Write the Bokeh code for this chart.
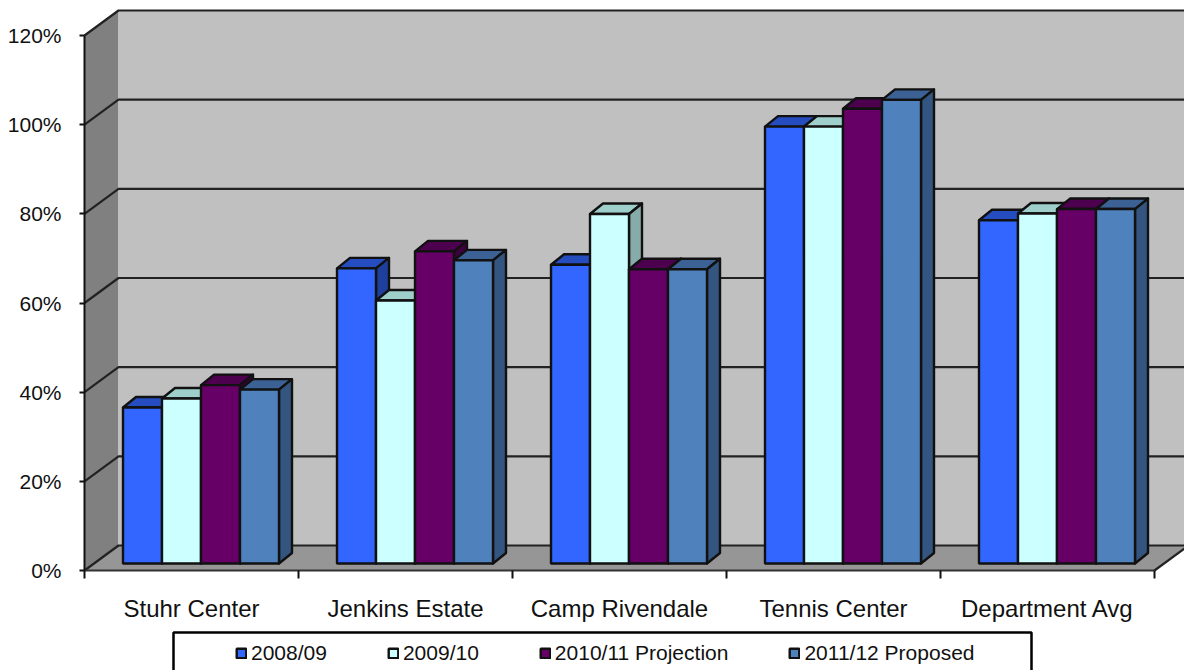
from bokeh.plotting import figure
from bokeh.models import (Range1d, FixedTicker, PrintfTickFormatter, Legend, LegendItem,
                          BoxAnnotation, ColumnDataSource)
from bokeh.embed import file_html
from bokeh.resources import INLINE

categories = ["Stuhr Center", "Jenkins Estate", "Camp Rivendale", "Tennis Center", "Department Avg"]
series_names = ["2008/09", "2009/10", "2010/11 Projection", "2011/12 Proposed"]
v2008 = [35, 66.2, 67, 98, 77]
v2009 = [37, 59, 78.4, 98, 78.5]
v2010 = [40, 70, 66, 102, 79.5]
v2011 = [39, 68, 66, 104, 79.5]
series_values = [v2008, v2009, v2010, v2011]
y_ticks = [0, 20, 40, 60, 80, 100, 120]

front_colors = ["#3366FF", "#CCFFFF", "#660066", "#4F81BD"]
top_colors = ["#264DBF", "#9FCFCB", "#4D004D", "#3B6195"]
side_colors = ["#1F3F9C", "#87ABA9", "#3F003F", "#33557F"]
INK = "#111111"

W, H = 1184, 670
AX_X, AX_Y = 84, 570  # page px of the origin
PX_X = 214.0          # px per category
PX_Y = 535.0 / 120    # px per percent
WALL_DX, WALL_DY = 34 / PX_X, 25 / PX_Y
BAR_DX, BAR_DY = 13 / PX_X, 10.5 / PX_Y
BASE = 7 / PX_Y
START = 38.5 / PX_X
BAR_W = 39 / PX_X
STROKE = 2.4

p = figure(width=W, height=H, output_backend="svg", toolbar_location=None,
           x_range=Range1d(-AX_X / PX_X, (W - AX_X) / PX_X),
           y_range=Range1d(-(H - AX_Y) / PX_Y, AX_Y / PX_Y),
           min_border=0, outline_line_color=None, background_fill_color="white")
p.grid.visible = False

# walls and floor
n = len(categories)
p.patch([0, WALL_DX, WALL_DX, 0], [0, WALL_DY, 120 + WALL_DY, 120],
        fill_color="#808080", line_color=None)
p.patch([WALL_DX, n + WALL_DX, n + WALL_DX, WALL_DX],
        [WALL_DY, WALL_DY, 120 + WALL_DY, 120 + WALL_DY],
        fill_color="#C0C0C0", line_color=None)
p.patch([0, WALL_DX, n + WALL_DX, n], [0, WALL_DY, WALL_DY, 0],
        fill_color="#969696", line_color=None)
for t in y_ticks:
    p.line([0, WALL_DX, n + WALL_DX], [t, t + WALL_DY, t + WALL_DY],
           line_color="#222222", line_width=2.2)
p.line([n, n + WALL_DX], [0, WALL_DY], line_color="#222222", line_width=2.2)

# bars
legend_items = []
for s, (name, vals) in enumerate(zip(series_names, series_values)):
    lefts = [i + START + s * BAR_W for i in range(n)]
    rights = [l + BAR_W for l in lefts]
    tops = [v + BASE for v in vals]
    p.patches([[l, l + BAR_DX, r + BAR_DX, r] for l, r in zip(lefts, rights)],
              [[t, t + BAR_DY, t + BAR_DY, t] for t in tops],
              fill_color=top_colors[s], line_color=INK, line_width=STROKE, line_join="round")
    p.patches([[r, r + BAR_DX, r + BAR_DX, r] for r in rights],
              [[BASE, BASE + BAR_DY, t + BAR_DY, t] for t in tops],
              fill_color=side_colors[s], line_color=INK, line_width=STROKE, line_join="round")
    src = ColumnDataSource(dict(left=lefts, right=rights, top=tops, bottom=[BASE] * n))
    r = p.quad(left="left", right="right", top="top", bottom="bottom", source=src,
               fill_color=front_colors[s], line_color=INK, line_width=STROKE)
    legend_items.append(LegendItem(label=name, renderers=[r]))

# axes
yax = p.yaxis[0]
yax.fixed_location = 0
yax.ticker = FixedTicker(ticks=y_ticks)
yax.formatter = PrintfTickFormatter(format="%d%%")
yax.bounds = (0, 120)
yax.major_tick_in = 0
yax.major_tick_out = 5
yax.minor_tick_line_color = None
yax.major_label_standoff = 18
yax.major_label_text_font = "Liberation Sans"
yax.major_label_text_font_size = "21px"
yax.major_label_text_color = "#111111"
yax.axis_line_width = 2
yax.axis_line_color = INK
yax.major_tick_line_width = 2
yax.major_tick_line_color = INK

xax = p.xaxis[0]
xax.fixed_location = 0
xax.ticker = FixedTicker(ticks=[i + 0.5 for i in range(n)], minor_ticks=list(range(n + 1)))
xax.major_label_overrides = {i + 0.5: c for i, c in enumerate(categories)}
xax.bounds = (0, n)
xax.major_tick_in = 0
xax.major_tick_out = 0
xax.minor_tick_in = 0
xax.minor_tick_out = 8
xax.minor_tick_line_width = 2
xax.minor_tick_line_color = INK
xax.major_label_standoff = 16
xax.major_label_text_font = "Liberation Sans"
xax.major_label_text_font_size = "24px"
xax.major_label_text_color = "#111111"
xax.axis_line_width = 2
xax.axis_line_color = "#333333"

# legend frame + legend (screen y of this annotation counts from the canvas bottom)
p.add_layout(BoxAnnotation(left=173, right=1031, top=38, bottom=-10,
                           left_units="screen", right_units="screen",
                           top_units="screen", bottom_units="screen",
                           fill_color="white", fill_alpha=1,
                           line_color="#000000", line_alpha=1, line_width=2.5))
legend = Legend(items=legend_items, orientation="horizontal", location=(235, 5),
                spacing=60, padding=6, margin=0, border_line_color=None,
                background_fill_alpha=0, label_text_font="Liberation Sans",
                label_text_font_size="21px", label_text_color="#111111",
                glyph_width=12, glyph_height=12, label_standoff=4)
p.add_layout(legend, "center")

open("out.html", "w").write(file_html(p, INLINE))
